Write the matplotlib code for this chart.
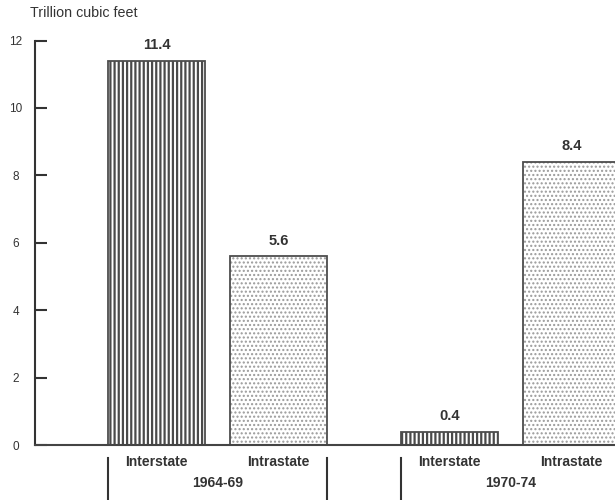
import matplotlib
matplotlib.use("Agg")
import matplotlib.pyplot as plt
import matplotlib.transforms as mtransforms

plt.rcParams['font.family'] = ['Liberation Sans', 'DejaVu Sans']

# Gas reserve additions by market, trillion cubic feet
periods = ["1964-69", "1970-74"]
markets = ["Interstate", "Intrastate"]
values = [[11.4, 5.6], [0.4, 8.4]]
y_ticks = [0, 2, 4, 6, 8, 10, 12]
y_title = "Trillion cubic feet"

W, H = 615, 500
fig = plt.figure(figsize=(W / 100, H / 100), dpi=100)
ax_left, ax_right = 35 / W, 1.0
ax_bottom, ax_top = (H - 445) / H, (H - 40.5) / H
ax = fig.add_axes([ax_left, ax_bottom, ax_right - ax_left, ax_top - ax_bottom])

bar_w = 0.8
group_step = 2.4
edge_col = "#4d4d4d"
text_col = "#333333"
styles = {
    "Interstate": dict(hatch="||||", color="#4a4a4a", lw=1.6),
    "Intrastate": dict(hatch="....", color="#9a9a9a", lw=1.0),
}
bt = mtransforms.blended_transform_factory(ax.transData, ax.transAxes)

for gi, period in enumerate(periods):
    for mi, market in enumerate(markets):
        x = gi * group_step + mi
        v = values[gi][mi]
        st = styles[market]
        hb = ax.bar(x, v, width=bar_w, color="white", edgecolor=st["color"],
                    linewidth=0, hatch=st["hatch"], zorder=2)
        for p in hb:
            if hasattr(p, "set_hatch_linewidth"):
                p.set_hatch_linewidth(st["lw"])
        ax.bar(x, v, width=bar_w, fill=False, edgecolor=edge_col,
               linewidth=1.3, zorder=3)
        ax.text(x, v + 0.25, f"{v:.1f}", ha="center", va="bottom",
                fontsize=10.5, fontweight="bold", color=text_col)
        ax.text(x, -0.043, market, transform=bt,
                ha="center", va="center", fontsize=10, fontweight="bold",
                color=text_col, clip_on=False)
    # group label and bracket
    left = gi * group_step - bar_w / 2
    right = gi * group_step + 1 + bar_w / 2
    ax.text((left + right) / 2, -0.093, period, transform=bt, ha="center",
            va="center", fontsize=10, fontweight="bold", color=text_col,
            clip_on=False)
    for xe in (left, right):
        ax.plot([xe, xe], [-0.032, -0.3], transform=bt, color=text_col,
                lw=1.5, clip_on=False)

ax.set_xlim(-0.996, 3.758)
ax.set_ylim(0, 12)

for s in ("top", "right", "bottom"):
    ax.spines[s].set_visible(False)
ax.spines["left"].set_color(text_col)
ax.spines["left"].set_linewidth(1.5)
ax.spines["left"].set_bounds(0, 12)
ax.axhline(0, color="#444444", lw=1.5, zorder=4, clip_on=False)

ax.set_xticks([])
ax.set_yticks(y_ticks)
ax.tick_params(axis="y", direction="in", length=8.6, width=1.5,
               colors=text_col, labelsize=8.5, pad=14)
for lbl in ax.get_yticklabels():
    lbl.set_horizontalalignment("center")

fig.text(30 / W, 1 - 13 / H, y_title, ha="left", va="center",
         fontsize=10.3, color=text_col)

fig.savefig("out.png", dpi=100)
